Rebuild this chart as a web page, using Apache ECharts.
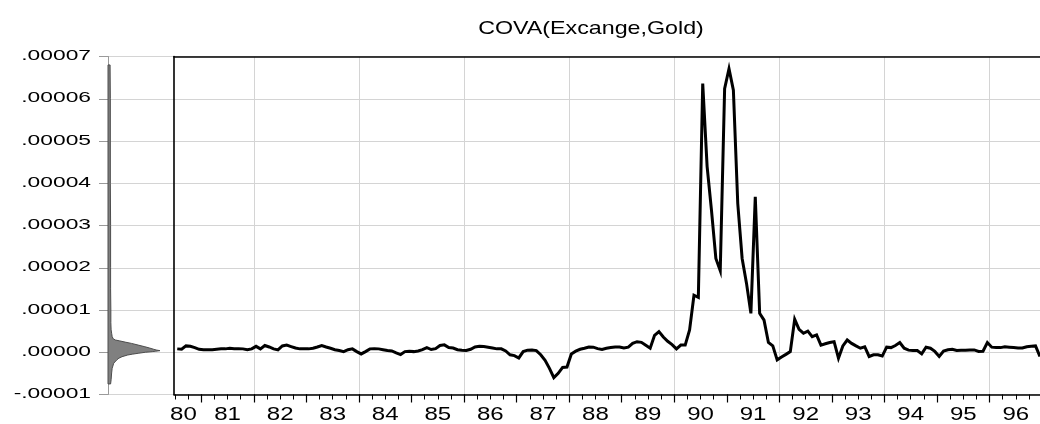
<!DOCTYPE html>
<html><head><meta charset="utf-8">
<script src="https://cdn.jsdelivr.net/npm/echarts@6/dist/echarts.min.js"></script>
<style>html,body{margin:0;padding:0;background:#fff}#c{width:1040px;height:424px}</style>
</head><body><div id="c"></div>
<script>
// ---- data ----
const titleText = 'COVA(Excange,Gold)';
const startYear = 80, startMonth = 7;          // first monthly observation: 80M07
// COVA(Excange,Gold), monthly, in units of 1e-6
const cova_e6 = [
  0.8, 0.7, 1.5, 1.4, 1.1, 0.7, 0.6, 0.6, 0.6, 0.7,
  0.8, 0.8, 0.95, 0.85, 0.85, 0.8, 0.6, 0.8, 1.4, 0.8,
  1.6, 1.25, 0.8, 0.55, 1.5, 1.7, 1.35, 1.0, 0.8, 0.8,
  0.8, 0.95, 1.25, 1.6, 1.25, 0.95, 0.6, 0.4, 0.15, 0.6,
  0.8, 0.15, -0.4, 0.15, 0.8, 0.85, 0.8, 0.6, 0.4, 0.3,
  -0.15, -0.55, 0.15, 0.25, 0.15, 0.3, 0.6, 1.1, 0.65, 0.85,
  1.6, 1.75, 1.1, 1.0, 0.6, 0.45, 0.4, 0.7, 1.25, 1.4,
  1.35, 1.2, 1.0, 0.8, 0.8, 0.3, -0.6, -0.8, -1.35, 0.15,
  0.5, 0.55, 0.4, -0.6, -1.9, -3.8, -6.0, -5.0, -3.6, -3.5,
  -0.4, 0.25, 0.7, 0.95, 1.25, 1.2, 0.85, 0.65, 0.95, 1.1,
  1.25, 1.25, 1.0, 1.2, 2.1, 2.5, 2.35, 1.65, 0.95, 4.0,
  4.9, 3.6, 2.6, 1.8, 0.8, 1.7, 1.7, 5.3, 13.5, 13.0,
  63.6, 44.0, 33.6, 22.2, 19.3, 62.4, 67.1, 62.0, 35.2, 22.2,
  16.3, 9.2, 36.8, 9.2, 7.6, 2.3, 1.5, -1.8, -1.1, -0.5,
  0.15, 7.8, 5.4, 4.5, 5.0, 3.7, 4.1, 1.7, 2.0, 2.3,
  2.5, -1.4, 1.5, 2.9, 2.1, 1.5, 0.95, 1.3, -1.0, -0.6,
  -0.6, -0.9, 1.2, 1.1, 1.6, 2.3, 0.95, 0.5, 0.4, 0.4,
  -0.4, 1.2, 0.95, 0.2, -1.0, 0.3, 0.6, 0.7, 0.4, 0.5,
  0.5, 0.55, 0.55, 0.2, 0.25, 2.3, 1.2, 1.1, 1.1, 1.3,
  1.2, 1.1, 1.0, 1.0, 1.3, 1.4, 1.5, -1.0
];
// y axis ticks (units of 1e-6) and their labels
const yTickValues = [-10, 0, 10, 20, 30, 40, 50, 60, 70];
const yTickLabels = ['-.00001', '.00000', '.00001', '.00002', '.00003', '.00004', '.00005', '.00006', '.00007'];
// x axis year labels and where they sit (middle of each visible year)
const xTickLabels = ['80','81','82','83','84','85','86','87','88','89','90','91','92','93','94','95','96'];
const xLabelPos = [80.66, 81.5, 82.5, 83.5, 84.5, 85.5, 86.5, 87.5, 88.5, 89.5, 90.5, 91.5, 92.5, 93.5, 94.5, 95.5, 96.5];
// kernel density shown at the left (level in 1e-6, relative density height)
const densLevel_e6 = [68, 60, 50, 40, 30, 20, 15, 10, 7, 5.3, 4.5, 3.7, 3.2, 2.9, 2.7, 2.4, 2.1, 1.7, 1.3, 1.0, 0.7, 0.5, 0.38, 0.25, 0.15, 0, -0.25, -0.45, -0.65, -1.05, -1.4, -1.8, -2.6, -3.8, -4.9, -6.5, -7.5];
const densHeight   = [4, 4.5, 4.5, 4.5, 5, 5, 5, 5.5, 5.5, 6, 7, 8, 10, 14, 22, 33, 45, 58, 71, 80, 88, 94, 100, 92, 85, 72, 58, 47, 38, 27, 21, 17, 11, 8, 7, 6, 5];

// ---- build ----
const X_MIN = 80.48, X_MAX = 96.96;
const lineData = cova_e6.map((v, j) => [startYear + (startMonth - 0.5 + j) / 12, v]);
const quarterTicks = [];
for (let q = 80.5; q < X_MAX; q += 0.25) quarterTicks.push(+q.toFixed(2));
const yearTicks = [];
for (let y = 81; y <= 96; y++) yearTicks.push(y);
const gridYears = [];
for (let y = 82; y <= 96; y += 2) gridYears.push(y);

const FONTFAM = '"Liberation Sans", Arial, Helvetica, sans-serif';
const GRIDC = '#d4d4d4';

const chart = echarts.init(document.getElementById('c'), null, {renderer: 'canvas'});
chart.setOption({
  animation: false,
  backgroundColor: '#fff',
  grid: [
    {left: 174, right: 0, top: 56.5, bottom: 29.5},
    {left: 108, width: 66, top: 56.5, bottom: 29.5}
  ],
  xAxis: [
    {gridIndex: 0, type: 'value', min: X_MIN, max: X_MAX, position: 'bottom',
      axisLine: {show: true, onZero: false, lineStyle: {color: '#000', width: 1.5}},
      axisTick: {show: true, customValues: quarterTicks, length: 5, lineStyle: {color: '#000', width: 1}},
      axisLabel: {show: false}, splitLine: {show: false}},
    {gridIndex: 0, type: 'value', min: X_MIN, max: X_MAX, position: 'bottom',
      axisLine: {show: false, onZero: false},
      axisTick: {show: true, customValues: yearTicks, length: 8, lineStyle: {color: '#000', width: 1.2}},
      axisLabel: {show: false}, splitLine: {show: false}},
    {gridIndex: 0, type: 'value', min: X_MIN, max: X_MAX, position: 'bottom',
      axisLine: {show: false, onZero: false},
      axisTick: {show: false, customValues: gridYears},
      axisLabel: {show: false},
      splitLine: {show: true, lineStyle: {color: GRIDC, width: 1}}},
    {gridIndex: 0, type: 'value', min: X_MIN, max: X_MAX, position: 'top',
      axisLine: {show: true, onZero: false, lineStyle: {color: '#000', width: 1.5}},
      axisTick: {show: false}, axisLabel: {show: false}, splitLine: {show: false}},
    {gridIndex: 1, type: 'value', min: 0, max: 127, show: false}
  ],
  yAxis: [
    {gridIndex: 0, type: 'value', min: -10, max: 70, interval: 10,
      axisLine: {show: true, onZero: false, lineStyle: {color: '#000', width: 1.6}},
      axisTick: {show: false}, axisLabel: {show: false},
      splitLine: {show: true, lineStyle: {color: GRIDC, width: 1}}},
    {gridIndex: 1, type: 'value', min: -10, max: 70, interval: 10, position: 'left',
      axisLine: {show: true, onZero: false, lineStyle: {color: '#9a9a9a', width: 1}},
      axisTick: {show: true, length: 9, lineStyle: {color: '#9a9a9a', width: 1}},
      axisLabel: {show: false},
      splitLine: {show: true, lineStyle: {color: GRIDC, width: 1}}}
  ],
  series: [
    {type: 'custom', coordinateSystem: 'cartesian2d', xAxisIndex: 4, yAxisIndex: 1,
      data: [[0, 0]], silent: true, clip: false, z: 3,
      renderItem: (params, api) => {
        const n = densLevel_e6.length;
        const pts = [api.coord([0, densLevel_e6[0]])];
        for (let k = 0; k < n; k++) pts.push(api.coord([densHeight[k], densLevel_e6[k]]));
        pts.push(api.coord([0, densLevel_e6[n - 1]]));
        return {type: 'polygon', shape: {points: pts},
          style: {fill: '#808080', stroke: '#4d4d4d', lineWidth: 1}};
      }},
    {type: 'line', xAxisIndex: 0, yAxisIndex: 0, data: lineData,
      showSymbol: false, symbol: 'none', silent: true, z: 5,
      lineStyle: {color: '#000', width: 3, join: 'miter'}}
  ]
});

// ---- text (the original's lettering is horizontally stretched), placed with the axes' own scales ----
function txt(text, x, y, size, sx, align) {
  return {type: 'text', x: x, y: y, scaleX: sx, silent: true, z: 10,
    style: {text: text, fill: '#000', font: size + 'px ' + FONTFAM,
      textAlign: align, align: align, textVerticalAlign: 'middle', verticalAlign: 'middle'}};
}
const els = [];
const yAxisX = chart.convertToPixel({gridIndex: 1}, [0, 0])[0];
yTickValues.forEach((v, k) => {
  const py = chart.convertToPixel({yAxisIndex: 1}, v);
  els.push(txt(yTickLabels[k], yAxisX - 17, py - 0.5, 15, 1.52, 'right'));
});
const xAxisY = chart.convertToPixel({yAxisIndex: 0}, yTickValues[0]);
xLabelPos.forEach((v, k) => {
  const px = chart.convertToPixel({xAxisIndex: 0}, v);
  els.push(txt(xTickLabels[k], px, xAxisY + 20.5, 18.5, 1.3, 'center'));
});
const topY = chart.convertToPixel({yAxisIndex: 0}, yTickValues[yTickValues.length - 1]);
els.push(txt(titleText, 591, topY - 28, 18.6, 1.25, 'center'));
chart.setOption({graphic: {elements: els}});
</script></body></html>
